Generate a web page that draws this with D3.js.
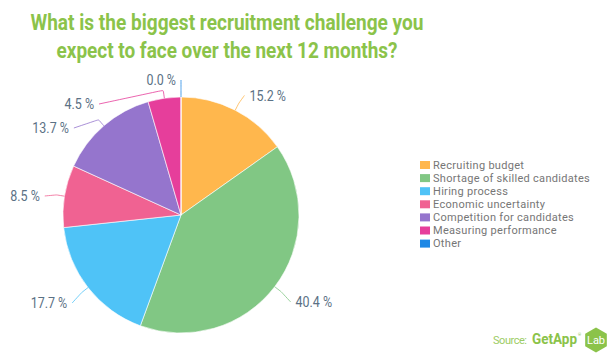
<!DOCTYPE html>
<html>
<head>
<meta charset="utf-8">
<script src="https://cdn.jsdelivr.net/npm/d3@7"></script>
<style>
  body { margin: 0; background: #fff; }
  svg { display: block; }
</style>
</head>
<body>
<script>
const width = 616;
const height = 359;

// data
const categories = [
    "Recruiting budget",
    "Shortage of skilled candidates",
    "Hiring process",
    "Economic uncertainty",
    "Competition for candidates",
    "Measuring performance",
    "Other"
];
const values = [15.2, 40.4, 17.7, 8.5, 13.7, 4.5, 0.0];
const colors = ["#FFB74D", "#81C784", "#4FC3F7", "#F06292", "#9575CD", "#E63E9B", "#1E88E5"];
const titleLines = [
    "What is the biggest recruitment challenge you",
    "expect to face over the next 12 months?"
];

const cx = 181, cy = 215, radius = 118;
const labelDist = 20;

let svg = d3.select("body").append("svg")
    .attr("width", width)
    .attr("height", height);

// title
let title = svg.append("g")
    .attr("fill", "#8BC34A")
    .style("font-family", "Roboto, 'Open Sans', sans-serif")
    .style("font-weight", "bold")
    .style("font-size", "21.5px")
    .attr("text-anchor", "middle");

title.append("text")
    .attr("x", 227).attr("y", 30)
    .attr("textLength", 393).attr("lengthAdjust", "spacingAndGlyphs")
    .text(titleLines[0]);
title.append("text")
    .attr("x", 227).attr("y", 58)
    .attr("textLength", 341).attr("lengthAdjust", "spacingAndGlyphs")
    .text(titleLines[1]);

// pie
let pie = d3.pie().sort(null).value(d => d);
let arcs = pie(values);
let arc = d3.arc().innerRadius(0).outerRadius(radius);

let g = svg.append("g").attr("transform", `translate(${cx},${cy})`);

g.selectAll(".slice")
    .data(arcs)
    .enter()
    .append("path")
    .attr("class", "slice")
    .attr("d", arc)
    .attr("fill", (d, i) => colors[i])
    .attr("stroke", "#fff")
    .attr("stroke-width", 0.6);

// label layout: start on a ring, push apart on each side
const R = radius + labelDist;
let labels = arcs.map((d, i) => {
    let a = (d.startAngle + d.endAngle) / 2;
    let right = a < Math.PI - 1e-6 && a > 1e-6;
    return {
        i: i, a: a, right: right,
        y0: -R * Math.cos(a) + 3,
        xr: R * Math.sin(a)
    };
});
labels.forEach(l => { l.y = l.y0; });

const minGap = 24;
[true, false].forEach(side => {
    let list = labels.filter(l => l.right === side).sort((p, q) => p.y - q.y);
    for (let k = 1; k < list.length; k++) {
        if (list[k].y < list[k - 1].y + minGap) list[k].y = list[k - 1].y + minGap;
    }
});

labels.forEach(l => {
    let sign = l.right ? 1 : -1;
    if (Math.abs(l.y - l.y0) < 0.5) {
        l.x = l.xr;
    } else {
        let dy = l.y;
        l.x = sign * Math.sqrt(Math.max(0, R * R - dy * dy));
    }
});

// connectors
let line = d3.line().curve(d3.curveBasis);
g.selectAll(".connector")
    .data(labels)
    .enter()
    .append("path")
    .attr("class", "connector")
    .attr("fill", "none")
    .attr("stroke", l => colors[l.i])
    .attr("stroke-opacity", 0.8)
    .attr("stroke-width", 1)
    .attr("d", l => {
        let p0 = [radius * Math.sin(l.a), -radius * Math.cos(l.a)];
        let p1 = [(radius + 8) * Math.sin(l.a), -(radius + 8) * Math.cos(l.a)];
        let p2 = [l.x, l.y];
        return line([p0, p1, p1, p2]);
    });

let labelText = g.selectAll(".label")
    .data(labels)
    .enter()
    .append("text")
    .attr("class", "label")
    .attr("x", l => l.x + (l.right ? 5 : -5))
    .attr("y", l => l.y)
    .attr("dy", "0.36em")
    .attr("text-anchor", l => l.right ? "start" : "end")
    .attr("fill", "#5B7185")
    .style("font-family", "Roboto, sans-serif")
    .style("font-size", "14.5px")
    .text(l => values[l.i].toFixed(1) + " %");

// squeeze labels to look condensed
labelText.each(function() {
    let len = this.getComputedTextLength();
    d3.select(this)
        .attr("textLength", len * 0.86)
        .attr("lengthAdjust", "spacingAndGlyphs");
});

// legend
let legend = svg.append("g")
    .attr("transform", "translate(420,165)")
    .style("font-family", "Roboto, sans-serif")
    .style("font-size", "11px")
    .style("letter-spacing", "0.3px");

let rows = legend.selectAll(".row")
    .data(categories)
    .enter()
    .append("g")
    .attr("class", "row")
    .attr("transform", (d, i) => `translate(0,${i * 13.1})`);

rows.append("rect")
    .attr("x", 0).attr("y", -4)
    .attr("width", 10).attr("height", 8)
    .attr("fill", (d, i) => colors[i]);

rows.append("text")
    .attr("x", 13).attr("y", 0)
    .attr("dy", "0.35em")
    .attr("fill", "#767676")
    .text(d => d);

// source
let source = svg.append("g").style("font-family", "Roboto, sans-serif");
source.append("text")
    .attr("x", 493).attr("y", 344)
    .attr("fill", "#9CCC65")
    .style("font-size", "11px")
    .attr("textLength", 34)
    .text("Source:");
source.append("text")
    .attr("x", 532).attr("y", 344)
    .attr("fill", "#8BC34A")
    .style("font-size", "14px")
    .style("font-weight", "bold")
    .attr("textLength", 45)
    .attr("lengthAdjust", "spacingAndGlyphs")
    .text("GetApp");
source.append("text")
    .attr("x", 578).attr("y", 336)
    .attr("fill", "#8BC34A")
    .style("font-size", "4px")
    .text("®");

let hex = d3.range(6).map(k => {
    let t = Math.PI / 3 * k + Math.PI / 6;
    return [596 + 12.5 * Math.cos(t), 340 + 12.5 * Math.sin(t)];
});
source.append("path")
    .attr("d", "M" + hex.join("L") + "Z")
    .attr("fill", "#8BC34A");
source.append("text")
    .attr("x", 596).attr("y", 340)
    .attr("dy", "0.35em")
    .attr("text-anchor", "middle")
    .attr("fill", "#fff")
    .style("font-size", "11px")
    .text("Lab");
</script>
</body>
</html>
